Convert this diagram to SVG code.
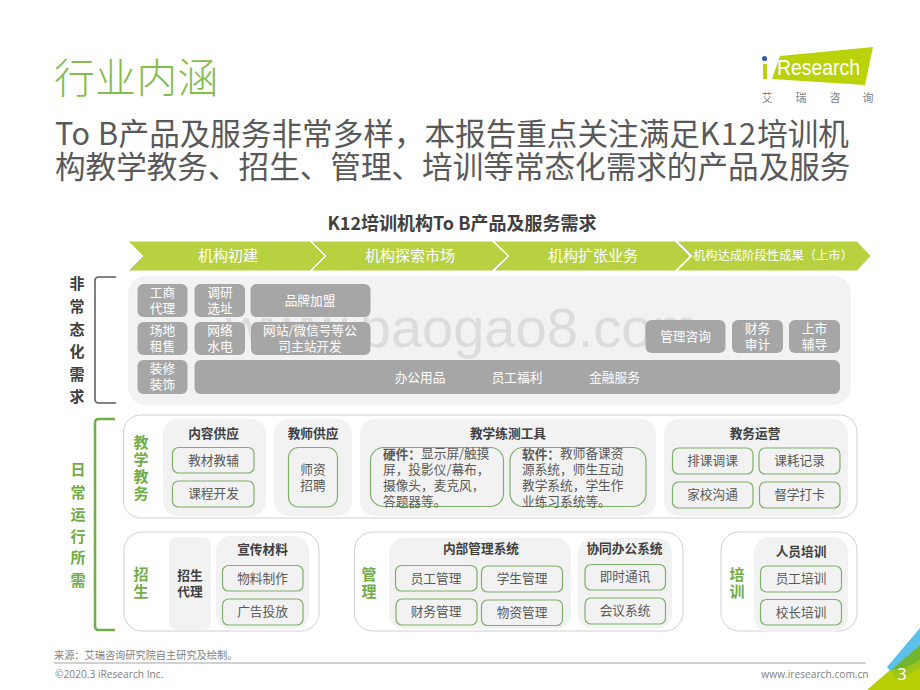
<svg xmlns="http://www.w3.org/2000/svg" width="920" height="690" viewBox="0 0 920 690">
<style>
text{font-family:"Noto Sans CJK SC","Noto Sans",sans-serif;text-anchor:middle;dominant-baseline:central;transform:translateY(-1.5px)}
.l{text-anchor:start}
.title{font-size:40.7px;fill:#84bd4a;font-weight:300;letter-spacing:.5px}
.sub{font-size:30.6px;fill:#595959}
.chev{fill:#b7d140;stroke:#fff;stroke-width:1}
.ct{font-size:15px;fill:#fff}
.h{font-size:18px;font-weight:700;fill:#404040}
.side{font-size:15px;font-weight:700;fill:#404040}
.g{font-size:15px;font-weight:700;fill:#70ad47}
.gb{fill:#a6a6a6}
.w{font-size:12.7px;fill:#fff}
.panel{fill:#f2f2f2}
.cont{fill:#fff;stroke:#d0d0d0;stroke-width:1}
.st{font-size:12.7px;font-weight:700;fill:#404040}
.ob{fill:#f2f2f2;stroke:#7fb069;stroke-width:1.2}
.t{font-size:12.7px;fill:#595959}
.foot{font-size:10.2px;fill:#7f7f7f}
.lg{font-size:11px;fill:#808080}
.wm{font-family:"Liberation Sans",sans-serif;font-size:56px;fill:#dcdcdc;text-anchor:start;dominant-baseline:auto;transform:none}
</style>
<text class="title l" x="54" y="77">行业内涵</text>
<text class="sub l" x="55" y="133"><tspan letter-spacing=".5">To B</tspan>产品及服务非常多样，本报告重点关注满足<tspan letter-spacing="1.2">K12</tspan>培训机</text>
<text class="sub l" x="55" y="166">构教学教务、招生、管理、培训等常态化需求的产品及服务</text>
<g id="logo">
<polygon points="780,56 873,47 865,85 772,79" fill="#b9d20a"/>
<circle cx="764.500" cy="58.500" r="2.600" fill="#2f5fb3"/>
<rect x="763" y="64" width="4" height="15" fill="#b9d20a"/>
<text class="l" x="777" y="69" textLength="83" lengthAdjust="spacingAndGlyphs" style="font-family:'Liberation Sans',sans-serif;font-size:22px;fill:#fff">Research</text>
<text class="lg" x="767" y="98">艾</text>
<text class="lg" x="801" y="98">瑞</text>
<text class="lg" x="835" y="98">咨</text>
<text class="lg" x="868" y="98">询</text>
</g>
<text class="h" x="462" y="223">K12培训机构To B产品及服务需求</text>
<g id="process">
<polygon class="chev" points="128,241 310,241 325,256 310,271 128,271 143,256"/>
<polygon class="chev" points="311,241 492,241 508,256 492,271 311,271 326,256"/>
<polygon class="chev" points="494,241 675,241 690,256 675,271 494,271 509,256"/>
<polygon class="chev" points="677,241 857,241 871,256 857,271 677,271 692,256"/>
<text class="ct" x="228" y="256">机构初建</text>
<text class="ct" x="410" y="256">机构探索市场</text>
<text class="ct" x="593" y="256">机构扩张业务</text>
<text class="ct" x="773" y="256" style="font-size:12.3px">机构达成阶段性成果（上市）</text>
</g>
<g id="connectors" fill="none">
<path d="M116,277H99Q95,277 95,281V399Q95,403 99,403H116" stroke="#595959" stroke-width="1.5"/>
<path d="M115,419H99Q95,419 95,423V626Q95,630 99,630H115" stroke="#70ad47" stroke-width="2.5"/>
</g>
<g id="side-labels">
<text class="side" x="77" y="284">非</text><text class="side" x="77" y="307">常</text><text class="side" x="77" y="330">态</text><text class="side" x="77" y="352">化</text><text class="side" x="77" y="375">需</text><text class="side" x="77" y="397">求</text>
<text class="g" x="78" y="470">日</text><text class="g" x="78" y="493">常</text><text class="g" x="78" y="515">运</text><text class="g" x="78" y="537">行</text><text class="g" x="78" y="558">所</text><text class="g" x="78" y="581">需</text>
</g>
<g id="non-regular">
<rect class="panel" x="128" y="276" width="723" height="129" rx="18"/>
<text class="wm" x="226" y="346.500">www.baogao8.com</text>
<g id="n1"><rect class="gb" x="137.5" y="284" width="50" height="33" rx="6"/><text class="w" x="162.500" y="293">工商</text><text class="w" x="162.500" y="309">代理</text></g>
<g id="n2"><rect class="gb" x="194.500" y="284" width="50.500" height="33" rx="6"/><text class="w" x="220" y="293">调研</text><text class="w" x="220" y="309">选址</text></g>
<g id="n3"><rect class="gb" x="250.500" y="284" width="120" height="33" rx="6"/><text class="w" x="310" y="301">品牌加盟</text></g>
<g id="n4"><rect class="gb" x="137.5" y="322" width="50" height="33" rx="6"/><text class="w" x="162.500" y="331">场地</text><text class="w" x="162.500" y="347">租售</text></g>
<g id="n5"><rect class="gb" x="194.500" y="322" width="50.500" height="33" rx="6"/><text class="w" x="220" y="331">网络</text><text class="w" x="220" y="347">水电</text></g>
<g id="n6"><rect class="gb" x="251" y="322" width="119.500" height="33" rx="6"/><text class="w" x="310" y="331">网站/微信号等公</text><text class="w" x="310" y="347">司主站开发</text></g>
<g id="n7"><rect class="gb" x="137.5" y="360" width="50" height="34" rx="6"/><text class="w" x="162.500" y="369">装修</text><text class="w" x="162.500" y="385">装饰</text></g>
<g id="n8"><rect class="gb" x="194.500" y="360" width="645.500" height="34" rx="6"/><text class="w" x="420" y="378">办公用品</text><text class="w" x="517" y="378">员工福利</text><text class="w" x="614.500" y="378">金融服务</text></g>
<g id="n9"><rect class="gb" x="645.500" y="320" width="80" height="33" rx="6"/><text class="w" x="685.500" y="337">管理咨询</text></g>
<g id="n10"><rect class="gb" x="732" y="320" width="51" height="33" rx="6"/><text class="w" x="757.500" y="329">财务</text><text class="w" x="757.500" y="345">审计</text></g>
<g id="n11"><rect class="gb" x="789" y="320" width="51" height="33" rx="6"/><text class="w" x="814.500" y="329">上市</text><text class="w" x="814.500" y="345">辅导</text></g>
</g>
<g id="teaching">
<rect class="cont" x="123.500" y="415" width="733.500" height="103" rx="17"/>
<text class="g" x="141" y="443">教</text><text class="g" x="141" y="460">学</text><text class="g" x="141" y="477">教</text><text class="g" x="141" y="494">务</text>
<g id="content-supply"><rect class="panel" x="163" y="419" width="103" height="97" rx="15"/><text class="st" x="213.500" y="434">内容供应</text>
<rect class="ob" x="172.500" y="447.500" width="81.500" height="25.500" rx="6"/><text class="t" x="213.500" y="460.500">教材教辅</text>
<rect class="ob" x="172.500" y="481" width="81.500" height="26" rx="6"/><text class="t" x="213.500" y="494">课程开发</text></g>
<g id="teacher-supply"><rect class="panel" x="274" y="419" width="78" height="97" rx="15"/><text class="st" x="313" y="434">教师供应</text>
<rect class="ob" x="288.500" y="447.500" width="49" height="59.500" rx="10"/><text class="t" x="313" y="470">师资</text><text class="t" x="313" y="486">招聘</text></g>
<g id="tools"><rect class="panel" x="360" y="419" width="296" height="97" rx="15"/><text class="st" x="508" y="434">教学练测工具</text>
<rect class="ob" x="370.500" y="447.500" width="133" height="59" rx="13"/>
<text class="t l" x="383" y="454"><tspan font-weight="700">硬件：</tspan>显示屏/触摸</text><text class="t l" x="383" y="470">屏，投影仪/幕布，</text><text class="t l" x="383" y="486">摄像头，麦克风，</text><text class="t l" x="383" y="502">答题器等。</text>
<rect class="ob" x="510" y="447.500" width="136" height="59" rx="13"/>
<text class="t l" x="522" y="454"><tspan font-weight="700">软件：</tspan>教师备课资</text><text class="t l" x="522" y="470">源系统，师生互动</text><text class="t l" x="522" y="486">教学系统，学生作</text><text class="t l" x="522" y="502">业练习系统等。</text></g>
<g id="academic-ops"><rect class="panel" x="664" y="419" width="184" height="97" rx="15"/><text class="st" x="755" y="434">教务运营</text>
<rect class="ob" x="672.500" y="448" width="80.500" height="26" rx="6"/><text class="t" x="712.500" y="461">排课调课</text>
<rect class="ob" x="759" y="448" width="81" height="26" rx="6"/><text class="t" x="799.500" y="461">课耗记录</text>
<rect class="ob" x="672.500" y="482" width="80.500" height="26" rx="6"/><text class="t" x="712.500" y="495">家校沟通</text>
<rect class="ob" x="759.500" y="482" width="80.500" height="26" rx="6"/><text class="t" x="799.500" y="495">督学打卡</text></g>
</g>
<g id="enrollment">
<rect class="cont" x="124" y="532" width="195" height="99" rx="18"/>
<text class="g" x="141" y="575">招</text><text class="g" x="141" y="592">生</text>
<g id="agent"><rect class="panel" x="169" y="537" width="42" height="93" rx="8"/><text class="st" x="190" y="576">招生</text><text class="st" x="190" y="592">代理</text></g>
<g id="promo"><rect class="panel" x="216" y="536" width="93" height="93" rx="15"/><text class="st" x="262.500" y="550">宣传材料</text>
<rect class="ob" x="222.500" y="565.500" width="80.500" height="25.500" rx="6"/><text class="t" x="262.500" y="578.500">物料制作</text>
<rect class="ob" x="222.500" y="599" width="80.500" height="26" rx="6"/><text class="t" x="262.500" y="612">广告投放</text></g>
</g>
<g id="management">
<rect class="cont" x="354.500" y="532" width="328.500" height="99" rx="18"/>
<text class="g" x="369" y="575">管</text><text class="g" x="369" y="592">理</text>
<g id="internal"><rect class="panel" x="389" y="538" width="182" height="91" rx="15"/><text class="st" x="481" y="549">内部管理系统</text>
<rect class="ob" x="395.500" y="565.500" width="81.500" height="25.500" rx="6"/><text class="t" x="436" y="578.500">员工管理</text>
<rect class="ob" x="481.500" y="566" width="81" height="26" rx="6"/><text class="t" x="522" y="579">学生管理</text>
<rect class="ob" x="396" y="599" width="81" height="26" rx="6"/><text class="t" x="436" y="612">财务管理</text>
<rect class="ob" x="481.500" y="600" width="81" height="25.500" rx="6"/><text class="t" x="522" y="613">物资管理</text></g>
<g id="collab"><rect class="panel" x="578" y="538" width="94" height="91" rx="15"/><text class="st" x="624.500" y="549">协同办公系统</text>
<rect class="ob" x="585" y="564.500" width="80.500" height="25.500" rx="6"/><text class="t" x="625" y="577">即时通讯</text>
<rect class="ob" x="585" y="598" width="80.500" height="26" rx="6"/><text class="t" x="625" y="611">会议系统</text></g>
</g>
<g id="training">
<rect class="cont" x="721" y="532" width="136" height="99" rx="18"/>
<text class="g" x="737" y="575">培</text><text class="g" x="737" y="592">训</text>
<g id="staff"><rect class="panel" x="754" y="537" width="94" height="95" rx="15"/><text class="st" x="801" y="552">人员培训</text>
<rect class="ob" x="760.500" y="566" width="81" height="26" rx="6"/><text class="t" x="801" y="579">员工培训</text>
<rect class="ob" x="760.500" y="599.500" width="81" height="25.500" rx="6"/><text class="t" x="801" y="612.500">校长培训</text></g>
</g>
<text class="foot l" x="54" y="656">来源：艾瑞咨询研究院自主研究及绘制。</text>
<line x1="54" y1="663" x2="866" y2="663" stroke="#a6a6a6" stroke-width="1.2"/>
<text class="foot l" x="55" y="675" style="font-family:'Open Sans',sans-serif">©2020.3 iResearch Inc.</text>
<text class="foot" x="815" y="675" style="font-family:'Open Sans',sans-serif">www.iresearch.com.cn</text>
<g id="corner">
<polygon points="867,690 890,670 920,645 920,690" fill="#b8cf05"/>
<polygon points="890,670 920,645 920,668 899,681" fill="#9cc41a"/>
<polygon points="890,670 920,645 920,660 905,668" fill="#72b52c"/>
<polygon points="920,628 920,645 890,671 887,667" fill="#5bc0eb"/>
<text x="902" y="675" style="font-size:16.5px;fill:#fff;font-family:'Noto Sans',sans-serif">3</text>
</g>
</svg>
